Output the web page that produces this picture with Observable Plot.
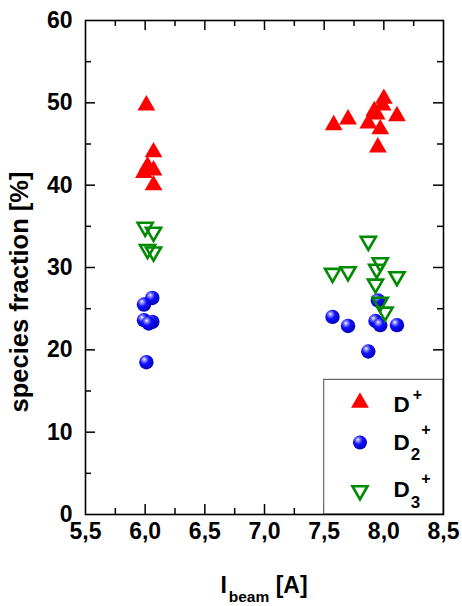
<!DOCTYPE html>
<html><head><meta charset="utf-8">
<script src="https://cdn.jsdelivr.net/npm/d3@7"></script>
<script src="https://cdn.jsdelivr.net/npm/@observablehq/plot@0.6"></script>
<style>body{margin:0;background:#fff}#chart svg{display:block}</style>
</head><body><div id="chart"></div>
<script>
// ---- tick values ----
const xTicks = [5.5, 6.0, 6.5, 7.0, 7.5, 8.0, 8.5];
const xMinor = [5.75, 6.25, 6.75, 7.25, 7.75, 8.25];
const yTicks = [0, 10, 20, 30, 40, 50, 60];
const yMinor = [5, 15, 25, 35, 45, 55];

// ---- series (I_beam [A], species fraction [%]) ----
const dPlusX = [6.01, 6.07, 6.02, 6.07, 5.99, 6.07, 7.58, 7.70, 7.87, 7.92, 7.94, 7.99, 8.00, 8.11, 7.97, 7.95];
const dPlusY = [49.7, 44.0, 42.3, 41.8, 41.5, 40.0, 47.3, 48.0, 47.5, 49.0, 48.6, 49.7, 50.5, 48.4, 46.8, 44.6];

const d2X = [6.06, 5.99, 5.99, 6.06, 6.03, 6.01, 7.57, 7.70, 7.93, 7.97, 8.11, 7.95, 7.87];
const d2Y = [26.3, 25.5, 23.6, 23.4, 23.2, 18.5, 24.0, 22.9, 23.5, 23.0, 23.0, 26.0, 19.8];

const d3X = [6.00, 6.07, 6.02, 6.07, 7.87, 7.57, 7.70, 7.97, 7.94, 8.11, 7.93, 7.97, 8.01];
const d3Y = [34.9, 34.3, 32.2, 31.9, 33.2, 29.3, 29.5, 30.6, 29.8, 28.9, 28.0, 25.8, 24.6];

// ---- legend ----
const legendBase = ["D", "D", "D"];
const legendSub = ["", "2", "3"];
const legendSup = ["+", "+", "+"];
const legendY = [13.6, 8.75, 2.9];

const W = 462, H = 606, mL = 85, mR = 19, mT = 20, mB = 92;
const innerH = H - mT - mB, innerW = W - mL - mR;
const font = "'Liberation Sans', Arial, sans-serif";
const fmt = d => d.toFixed(1).replace(".", ",");

const pts = (xs, ys) => xs.map((x, i) => ({x, y: ys[i]}));
const red = "#ff0000", green = "#008a00";
const tk = {stroke: "#000", strokeWidth: 1.5};

const chart = Plot.plot({
  width: W, height: H,
  marginLeft: mL, marginRight: mR, marginTop: mT, marginBottom: mB,
  style: {fontFamily: font, fontWeight: "bold", fontSize: "23px", color: "#000", background: "#fff"},
  x: {domain: [5.5, 8.5], axis: null},
  y: {domain: [0, 60], axis: null},
  marks: [
    // tick labels
    Plot.axisX({ticks: xTicks, tickSize: 0, tickPadding: 8, tickFormat: fmt, fontSize: 23, fontWeight: "bold", label: null}),
    Plot.axisY({ticks: yTicks, tickSize: 0, tickPadding: 13, tickFormat: d => String(d), fontSize: 23, fontWeight: "bold", label: null}),
    // inward ticks: bottom / top
    Plot.tickX(xTicks.slice(1, -1), {x: d => d, insetTop: innerH - 10, ...tk}),
    Plot.tickX(xMinor, {x: d => d, insetTop: innerH - 6, ...tk}),
    Plot.tickX(xTicks.slice(1, -1), {x: d => d, insetBottom: innerH - 10, ...tk}),
    Plot.tickX(xMinor, {x: d => d, insetBottom: innerH - 6, ...tk}),
    // inward ticks: left / right
    Plot.tickY(yTicks.slice(1, -1), {y: d => d, insetRight: innerW - 10, ...tk}),
    Plot.tickY(yMinor, {y: d => d, insetRight: innerW - 6, ...tk}),
    Plot.tickY(yTicks.slice(1, -1), {y: d => d, insetLeft: innerW - 10, ...tk}),
    Plot.tickY(yMinor, {y: d => d, insetLeft: innerW - 6, ...tk}),
    // data
    Plot.dot(pts(dPlusX, dPlusY), {x: "x", y: "y", symbol: "triangle", r: 6.6, fill: red, stroke: "none"}),
    Plot.dot(pts(d2X, d2Y), {x: "x", y: "y", symbol: "circle", r: 7.2, fill: "url(#ball)", stroke: "none"}),
    Plot.dot(pts(d3X, d3Y), {x: "x", y: "y", symbol: "triangle", rotate: 180, r: 5.6, fill: "none", stroke: green, strokeWidth: 2.6}),
    // legend box
    Plot.rect([{x1: 7.5, x2: 8.5, y1: 0, y2: 16.35}], {x1: "x1", x2: "x2", y1: "y1", y2: "y2", fill: "#fff", stroke: "#666", strokeWidth: 1.2}),
    Plot.dot([legendY[0]], {x: 7.8, y: d => d, symbol: "triangle", r: 6.6, fill: red, stroke: "none"}),
    Plot.dot([legendY[1]], {x: 7.8, y: d => d, symbol: "circle", r: 7, fill: "url(#ball)", stroke: "none"}),
    Plot.dot([legendY[2]], {x: 7.8, y: d => d, symbol: "triangle", rotate: 180, r: 5.6, fill: "none", stroke: green, strokeWidth: 2.6}),
    Plot.frame({stroke: "#000", strokeWidth: 1.6})
  ]
});

const svg = d3.select(chart);
const defs = svg.insert("defs", ":first-child");
const g = defs.append("radialGradient").attr("id", "ball").attr("cx", "0.38").attr("cy", "0.35").attr("r", "0.7").attr("fx", "0.35").attr("fy", "0.3");
g.append("stop").attr("offset", "0").attr("stop-color", "#ffffff");
g.append("stop").attr("offset", "0.18").attr("stop-color", "#8a8aff");
g.append("stop").attr("offset", "0.45").attr("stop-color", "#1010ff");
g.append("stop").attr("offset", "1").attr("stop-color", "#0000b0");

const sx = chart.scale("x").apply, sy = chart.scale("y").apply;

// legend labels
const baseOff = [10, 8, 7];
const subDy = [0, 10, 11];
const supDy = [-12, -25, -24];
legendBase.forEach((b, i) => {
  const x0 = sx(7.8) + 34, yb = sy(legendY[i]) + baseOff[i];
  const t = svg.append("text").attr("x", x0).attr("y", yb).attr("text-anchor", "start")
    .attr("font-family", font).attr("font-weight", "bold").attr("font-size", 22.5).attr("fill", "#000");
  t.append("tspan").text(b);
  if (legendSub[i]) {
    t.append("tspan").attr("font-size", 17).attr("dx", 1).attr("dy", subDy[i]).text(legendSub[i]);
    t.append("tspan").attr("font-size", 16).attr("dx", 1).attr("dy", supDy[i]).text(legendSup[i]);
  } else {
    t.append("tspan").attr("font-size", 16).attr("dx", 3).attr("dy", supDy[i]).text(legendSup[i]);
  }
});

// axis titles
const xt = svg.append("text").attr("x", (mL + W - mR) / 2).attr("y", 593).attr("text-anchor", "middle")
  .attr("font-family", font).attr("font-weight", "bold").attr("font-size", 23).attr("fill", "#000");
xt.append("tspan").text("I");
xt.append("tspan").attr("font-size", 15.5).attr("dx", 2).attr("dy", 9).text("beam");
xt.append("tspan").attr("dy", -9).text(" [A]");

svg.append("text").attr("transform", `translate(28,292) rotate(-90)`).attr("text-anchor", "middle")
  .attr("font-family", font).attr("font-weight", "bold").attr("font-size", 25.5).attr("fill", "#000")
  .text("species fraction [%]");

document.getElementById("chart").appendChild(chart);
</script>
</body></html>
